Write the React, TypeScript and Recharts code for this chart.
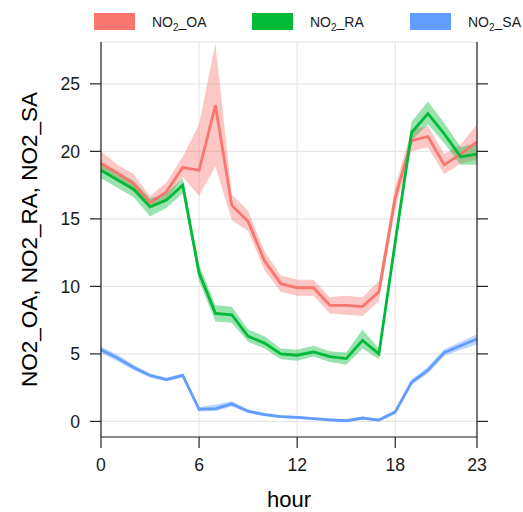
import { Area, CartesianGrid, ComposedChart, Line, XAxis, YAxis } from 'recharts'

const hours = [0, 1, 2, 3, 4, 5, 6, 7, 8, 9, 10, 11, 12, 13, 14, 15, 16, 17, 18, 19, 20, 21, 22, 23]

const oaMean = [19.1, 18.4, 17.6, 16.2, 17.0, 18.8, 18.6, 23.4, 16.0, 14.8, 11.9, 10.2, 9.9, 9.9, 8.6, 8.6, 8.5, 9.6, 16.6, 20.8, 21.1, 19.0, 19.8, 20.7]
const oaLow = [18.5, 17.8, 17.0, 15.8, 16.4, 18.1, 16.7, 18.9, 14.9, 14.1, 11.2, 9.6, 9.3, 9.3, 8.0, 7.9, 7.8, 8.9, 15.8, 20.0, 20.3, 18.3, 19.1, 19.4]
const oaHigh = [20.0, 19.0, 18.3, 16.7, 17.7, 19.6, 22.0, 28.0, 16.8, 15.6, 12.6, 10.8, 10.5, 10.5, 9.2, 9.3, 9.2, 10.4, 17.4, 21.6, 21.9, 19.8, 20.5, 22.0]

const raMean = [18.6, 17.9, 17.2, 15.9, 16.4, 17.5, 11.0, 8.0, 7.9, 6.3, 5.8, 5.0, 4.9, 5.15, 4.8, 4.65, 6.0, 5.0, 13.3, 21.4, 22.8, 21.3, 19.6, 19.8]
const raLow = [18.0, 17.3, 16.6, 15.2, 15.8, 16.9, 10.4, 7.4, 7.3, 5.9, 5.4, 4.6, 4.5, 4.8, 4.4, 4.2, 5.4, 4.6, 12.8, 20.8, 22.0, 20.6, 19.0, 19.0]
const raHigh = [19.2, 18.5, 17.8, 16.5, 16.9, 18.0, 11.6, 8.6, 8.5, 6.8, 6.3, 5.4, 5.3, 5.6, 5.2, 5.1, 6.8, 5.4, 13.8, 22.2, 23.7, 22.1, 20.3, 20.6]

const saMean = [5.3, 4.7, 4.0, 3.4, 3.1, 3.4, 0.9, 0.95, 1.3, 0.75, 0.5, 0.35, 0.3, 0.2, 0.12, 0.05, 0.25, 0.1, 0.7, 2.9, 3.8, 5.1, 5.6, 6.1]
const saLow = [5.05, 4.45, 3.8, 3.25, 2.95, 3.25, 0.75, 0.75, 1.1, 0.6, 0.4, 0.25, 0.2, 0.1, 0.03, -0.05, 0.15, 0.0, 0.55, 2.7, 3.55, 4.85, 5.3, 5.7]
const saHigh = [5.55, 4.95, 4.2, 3.55, 3.25, 3.55, 1.05, 1.25, 1.5, 0.9, 0.65, 0.45, 0.4, 0.3, 0.22, 0.15, 0.35, 0.2, 0.85, 3.1, 4.05, 5.35, 5.9, 6.45]

const xTicks = [0, 6, 12, 18, 23]
const yTicks = [0, 5, 10, 15, 20, 25]

const series = [
  { key: 'oa', suffix: '_OA', color: '#F8766D', mean: oaMean, lo: oaLow, hi: oaHigh },
  { key: 'ra', suffix: '_RA', color: '#00BA38', mean: raMean, lo: raLow, hi: raHigh },
  { key: 'sa', suffix: '_SA', color: '#619CFF', mean: saMean, lo: saLow, hi: saHigh },
]

const chartData = hours.map((hour, i) => {
  const row: Record<string, number | number[]> = { hour }
  series.forEach(s => {
    row[s.key] = s.mean[i]
    row[s.key + 'Band'] = [s.lo[i], s.hi[i]]
  })
  return row
})

const font = '"Liberation Sans", Arial, sans-serif'
const yDomain = [-1.155, 28.1]

function YTitle(props: any) {
  const vb = props.viewBox
  return (
    <text transform={`translate(${vb.x + 37}, ${vb.y + vb.height / 2}) rotate(-90)`}
      textAnchor="middle" fontSize={22.5} fill="#000" fontFamily={font}>
      NO2_OA, NO2_RA, NO2_SA
    </text>
  )
}

export default function App() {
  return (
    <div style={{ position: 'absolute', left: 0, top: 0, width: 523, height: 512, fontFamily: font, background: '#fff' }}>
      <div style={{ position: 'absolute', top: 13, left: 94, width: 429, display: 'flex', height: 17, alignItems: 'center' }}>
        {series.map(s => (
          <div key={s.key} style={{ width: 158, flexShrink: 0, display: 'flex', alignItems: 'center', fontSize: 14, color: '#1a1a1a', whiteSpace: 'nowrap' }}>
            <span style={{ width: 41, height: 17, background: s.color, display: 'inline-block', flexShrink: 0 }} />
            <span style={{ marginLeft: 17 }}>NO<sub style={{ fontSize: 10, verticalAlign: -4, lineHeight: 0 }}>2</sub>{s.suffix}</span>
          </div>
        ))}
      </div>
      <ComposedChart width={523} height={512} data={chartData} margin={{ top: 42, right: 0, bottom: 0, left: 0 }}>
        <CartesianGrid stroke="#e6e6e6" strokeWidth={1.2} />
        <XAxis dataKey="hour" type="number" domain={[0, 23]} ticks={xTicks} interval={0}
          height={75} tickSize={11} tickMargin={11}
          axisLine={{ stroke: '#222', strokeWidth: 1.2 }} tickLine={{ stroke: '#222', strokeWidth: 1.2 }}
          tick={{ fill: '#1a1a1a', fontSize: 17.6, fontFamily: font }}
          label={{ value: 'hour', position: 'insideBottom', offset: 5, fontSize: 22, fill: '#000', fontFamily: font }} />
        <YAxis type="number" domain={yDomain} ticks={yTicks} allowDataOverflow width={101}
          tickSize={11} tickMargin={10}
          axisLine={{ stroke: '#222', strokeWidth: 1.2 }} tickLine={{ stroke: '#222', strokeWidth: 1.2 }}
          tick={{ fill: '#1a1a1a', fontSize: 17.6, fontFamily: font }}
          label={YTitle} />
        <YAxis yAxisId="right" orientation="right" type="number" domain={yDomain} ticks={yTicks} allowDataOverflow width={46}
          tickSize={11} axisLine={{ stroke: '#222', strokeWidth: 1.2 }} tickLine={{ stroke: '#222', strokeWidth: 1.2 }}
          tick={() => <g />} />
        {series.flatMap(s => [
          <Area key={s.key + 'Band'} dataKey={s.key + 'Band'} type="linear" stroke="none"
            fill={s.color} fillOpacity={0.4} isAnimationActive={false} />,
          <Line key={s.key} dataKey={s.key} type="linear" stroke={s.color} strokeWidth={2.8}
            dot={false} activeDot={false} isAnimationActive={false} />,
        ])}
      </ComposedChart>
    </div>
  )
}
